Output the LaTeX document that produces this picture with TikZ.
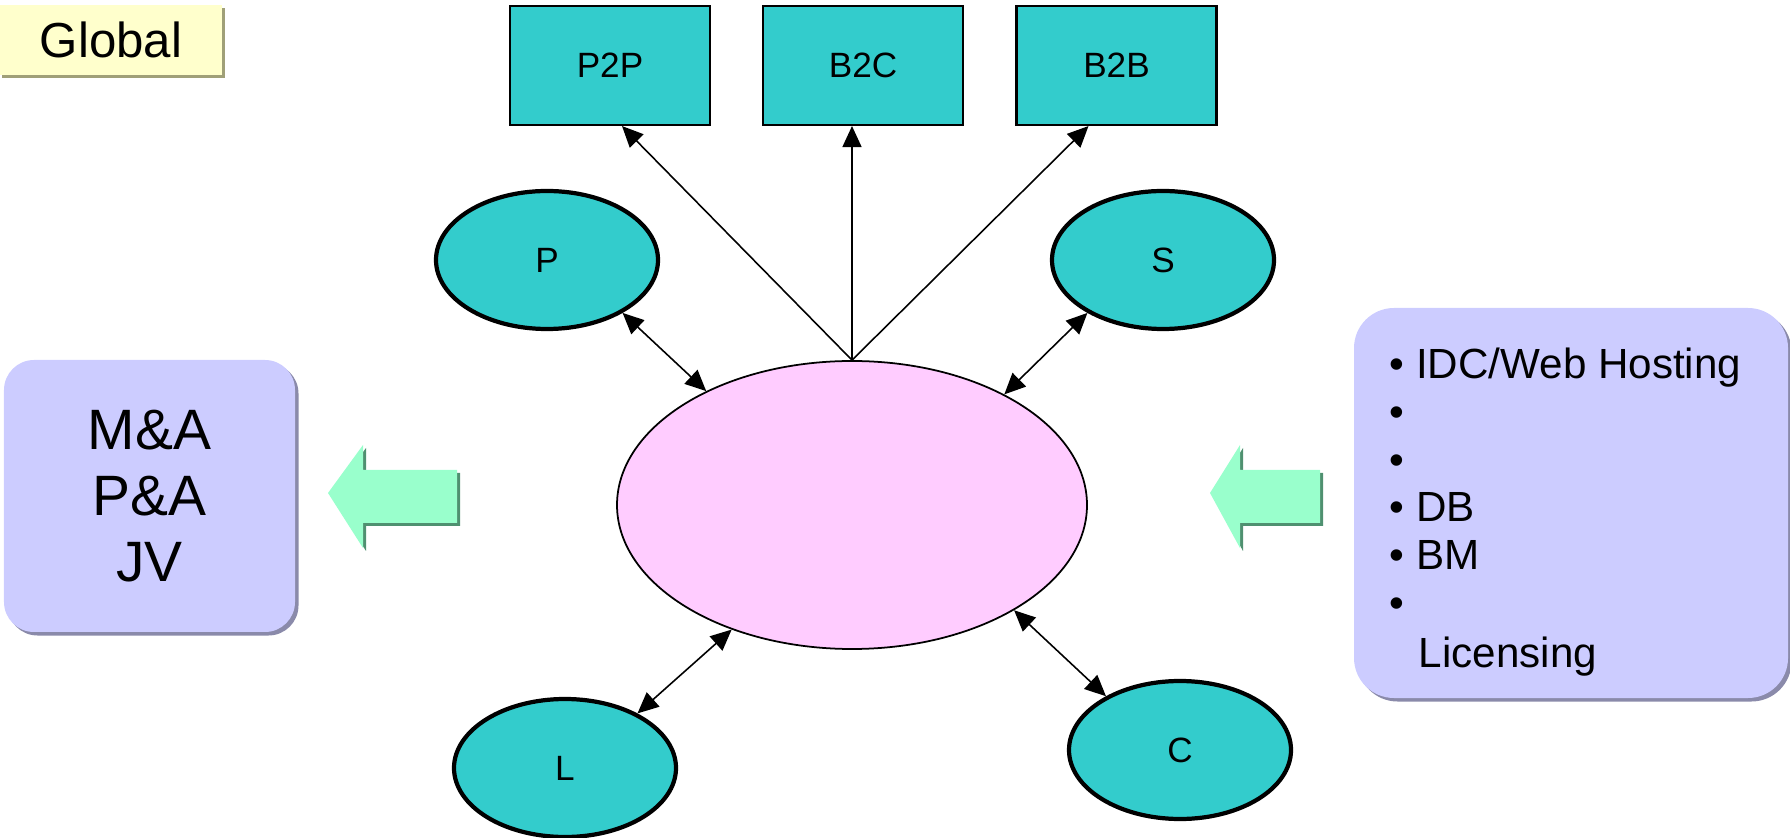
\documentclass[tikz,border=0pt]{standalone}
\usepackage{fontspec}
\setmainfont{Liberation Sans}
\usetikzlibrary{shapes.geometric,arrows.meta,calc,shadows}

\definecolor{modelteal}{HTML}{33CCCC}
\definecolor{hubpink}{HTML}{FFCCFF}
\definecolor{notelilac}{HTML}{CCCCFF}
\definecolor{lilacshadow}{HTML}{8A8AAA}
\definecolor{pushgreen}{HTML}{99FFCC}
\definecolor{greenshadow}{HTML}{4F9070}
\definecolor{tagyellow}{HTML}{FFFFCC}
\definecolor{tagshadow}{HTML}{A0A078}

\tikzset{
  segment/.style={draw, fill=modelteal, line width=0.6pt, minimum width=2cm,
    minimum height=1.19cm, inner sep=0pt, font=\fontsize{10}{12}\selectfont},
  party/.style={ellipse, draw, fill=modelteal, line width=1.2pt, minimum width=2.22cm,
    minimum height=1.38cm, inner sep=0pt, font=\fontsize{10}{12}\selectfont},
  lilacbox/.style={fill=notelilac, inner sep=0pt,
    general shadow={fill=lilacshadow, shadow xshift=0.035cm, shadow yshift=-0.035cm}},
  pusharrow/.style={fill=pushgreen,
    general shadow={fill=greenshadow, shadow xshift=0.03cm, shadow yshift=-0.03cm}},
  offerline/.style={anchor=base west, inner sep=0pt, font=\fontsize{12}{14}\selectfont}
}

\begin{document}
\begin{tikzpicture}[>={Triangle[length=0.21cm,width=0.19cm]}, line width=0.45pt]
  \useasboundingbox (0,0) rectangle (17.9,8.37);

  % label top left
  \node[fill=tagyellow, minimum width=2.22cm, minimum height=0.7cm, inner sep=0pt,
    general shadow={fill=tagshadow, shadow xshift=0.025cm, shadow yshift=-0.03cm},
    font=\fontsize{14}{16}\selectfont] (global) at (1.11,7.97) {Global};

  % business models
  \node[segment] (p2p) at (6.10,7.715) {P2P};
  \node[segment] (b2c) at (8.63,7.715) {B2C};
  \node[segment] (b2b) at (11.165,7.715) {B2B};

  % hub and partners
  \node[ellipse, draw, fill=hubpink, line width=0.5pt, minimum width=4.7cm,
    minimum height=2.88cm, inner sep=0pt] (hub) at (8.52,3.32) {};
  \node[party] (p) at (5.47,5.77) {P};
  \node[party] (s) at (11.63,5.77) {S};
  \node[party] (l) at (5.65,0.69) {L};
  \node[party] (c) at (11.80,0.87) {C};

  \draw[->] (hub.north) -- ($(p2p.south)+(0.12,0)$);
  \draw[->] (hub.north) -- (hub.north |- b2c.south);
  \draw[->] (hub.north) -- ($(b2b.south)+(-0.28,0)$);

  \draw[<->] (p.-35) -- (hub.142.5);
  \draw[<->] (s.-145.6) -- (hub.36.6);
  \draw[<->] (l.37) -- (hub.-134.3);
  \draw[<->] (c.144.5) -- (hub.-33.4);

  % side boxes
  \node[lilacbox, rounded corners=0.3cm, minimum width=2.91cm, minimum height=2.72cm,
    align=center, font=\fontsize{16.2}{18.8}\selectfont] (deals) at (1.495,3.41)
    {M\&A\\P\&A\\JV};
  \node[lilacbox, rounded corners=0.4cm, minimum width=4.34cm, minimum height=3.9cm]
    (offer) at (15.71,3.34) {};
  \node[offerline] (o1) at (13.89,4.58) {\textbullet\ IDC/Web Hosting};
  \node[offerline] (o2) at (13.89,4.10) {\textbullet};
  \node[offerline] (o3) at (13.89,3.62) {\textbullet};
  \node[offerline] (o4) at (13.89,3.15) {\textbullet\ DB};
  \node[offerline] (o5) at (13.89,2.67) {\textbullet\ BM};
  \node[offerline] (o6) at (13.89,2.19) {\textbullet};
  \node[offerline] (o7) at (14.18,1.70) {Licensing};

  % green arrows
  \path[pusharrow] (3.28,3.44) -- (3.63,3.92) -- (3.63,3.67) -- (4.57,3.67)
    -- (4.57,3.14) -- (3.63,3.14) -- (3.63,2.89) -- cycle;
  \path[pusharrow] (12.10,3.44) -- (12.40,3.92) -- (12.40,3.67) -- (13.20,3.67)
    -- (13.20,3.14) -- (12.40,3.14) -- (12.40,2.89) -- cycle;
\end{tikzpicture}
\end{document}
